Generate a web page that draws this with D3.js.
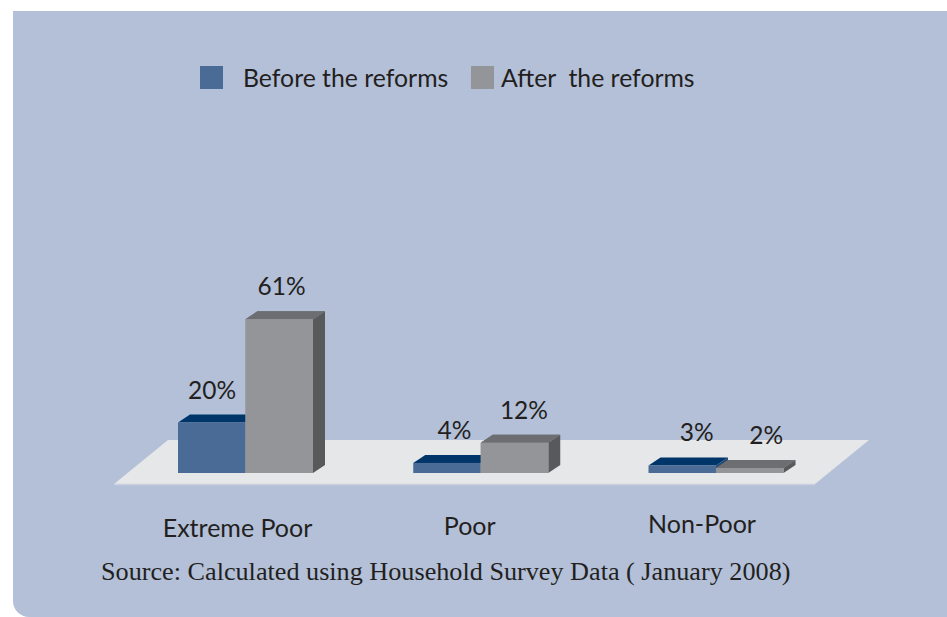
<!DOCTYPE html>
<html><head><meta charset="utf-8">
<script src="https://cdn.jsdelivr.net/npm/d3@7/dist/d3.min.js"></script>
<style>html,body{margin:0;padding:0;background:#fff;}svg{display:block;}</style>
</head><body>
<script>
const categories = ["Extreme Poor", "Poor", "Non-Poor"];
const seriesNames = ["Before the reforms", "After  the reforms"];
const before = [20, 4, 3];
const after = [61, 12, 2];
const valueLabels = [["20%", "61%"], ["4%", "12%"], ["3%", "2%"]];
const sourceText = "Source: Calculated using Household Survey Data ( January 2008)";

const W = 947, H = 617;
const svg = d3.select("body").append("svg").attr("width", W).attr("height", H);

// panel
const px = 13, py = 11, r = 16;
svg.append("path")
  .attr("d", `M${px},${py} H${W} V${H} H${px + r} A${r},${r} 0 0 1 ${px},${H - r} Z`)
  .attr("fill", "#b3c0d8");

const colors = {
  before: { front: "#4a6b96", top: "#00356a", side: "#1f4a7a" },
  after: { front: "#939598", top: "#6d6e71", side: "#58595b" }
};

// floor
svg.append("path")
  .attr("d", "M114,484 L168,440 L869,440 L815,484 Z")
  .attr("fill", "#e6e7e9");
svg.append("line").attr("x1", 114).attr("x2", 815).attr("y1", 484.5).attr("y2", 484.5)
  .attr("stroke", "#c9d0df").attr("stroke-width", 1.5);

const x = d3.scalePoint().domain(categories).range([245.5, 716]);
const xs = d3.scaleBand().domain(["before", "after"]).range([-67.5, 67.5]);
const y = d3.scaleLinear().domain([0, 100]).range([473, 221]);
const dx = 12, dy = -8;

const data = [];
categories.forEach((c, i) => {
  data.push({ cat: c, key: "before", v: before[i], label: valueLabels[i][0] });
  data.push({ cat: c, key: "after", v: after[i], label: valueLabels[i][1] });
});

const g = svg.append("g");
data.forEach(d => {
  const x0 = x(d.cat) + xs(d.key), w = xs.bandwidth();
  const y0 = y(d.v), y1 = y(0);
  const col = colors[d.key];
  g.append("path").attr("d", `M${x0 + w},${y0} L${x0 + w + dx},${y0 + dy} L${x0 + w + dx},${y1 + dy} L${x0 + w},${y1} Z`)
    .attr("fill", col.side);
  g.append("path").attr("d", `M${x0},${y0} L${x0 + dx},${y0 + dy} L${x0 + w + dx},${y0 + dy} L${x0 + w},${y0} Z`)
    .attr("fill", col.top);
  g.append("rect").attr("x", x0).attr("y", y0).attr("width", w).attr("height", y1 - y0)
    .attr("fill", col.front);
});
data.filter(d => d.key === "after").forEach(d => {
  const x0 = x(d.cat) + xs(d.key), w = xs.bandwidth();
  const y0 = y(d.v), y1 = y(0);
  const col = colors[d.key];
  g.append("path").attr("d", `M${x0},${y0} L${x0 + dx},${y0 + dy} L${x0 + w + dx},${y0 + dy} L${x0 + w},${y0} Z`)
    .attr("fill", col.top);
  g.append("rect").attr("x", x0).attr("y", y0).attr("width", w).attr("height", y1 - y0)
    .attr("fill", col.front);
});

const sans = "Lato, 'Open Sans', sans-serif";
data.forEach(d => {
  const cx = x(d.cat) + xs(d.key) + xs.bandwidth() / 2;
  svg.append("text")
    .attr("x", cx + (cx - 200) * 0.03)
    .attr("y", y(d.v) - 24)
    .attr("text-anchor", "middle")
    .attr("font-family", sans).attr("font-size", 24.5)
    .attr("fill", "#231f20")
    .text(d.label);
});

categories.forEach((c, i) => {
  svg.append("text")
    .attr("x", x(c) - 8 - i * 3)
    .attr("y", 537 - i * 2)
    .attr("text-anchor", "middle")
    .attr("font-family", sans).attr("font-size", 25)
    .attr("fill", "#231f20")
    .text(c);
});

const leg = svg.append("g");
const legX = [200, 471];
seriesNames.forEach((s, i) => {
  const key = i === 0 ? "before" : "after";
  leg.append("rect").attr("x", legX[i]).attr("y", 66).attr("width", 23).attr("height", 23)
    .attr("fill", colors[key].front);
  leg.append("text").attr("x", legX[i] + (i === 0 ? 43 : 30)).attr("y", 87)
    .attr("font-family", sans).attr("font-size", 24.8).attr("fill", "#231f20")
    .style("white-space", "pre")
    .text(s);
});

svg.append("text").attr("x", 101).attr("y", 580)
  .attr("font-family", "'Liberation Serif', 'DejaVu Serif', serif").attr("font-size", 26.2)
  .attr("fill", "#231f20").style("white-space", "pre")
  .text(sourceText);
</script>
</body></html>
